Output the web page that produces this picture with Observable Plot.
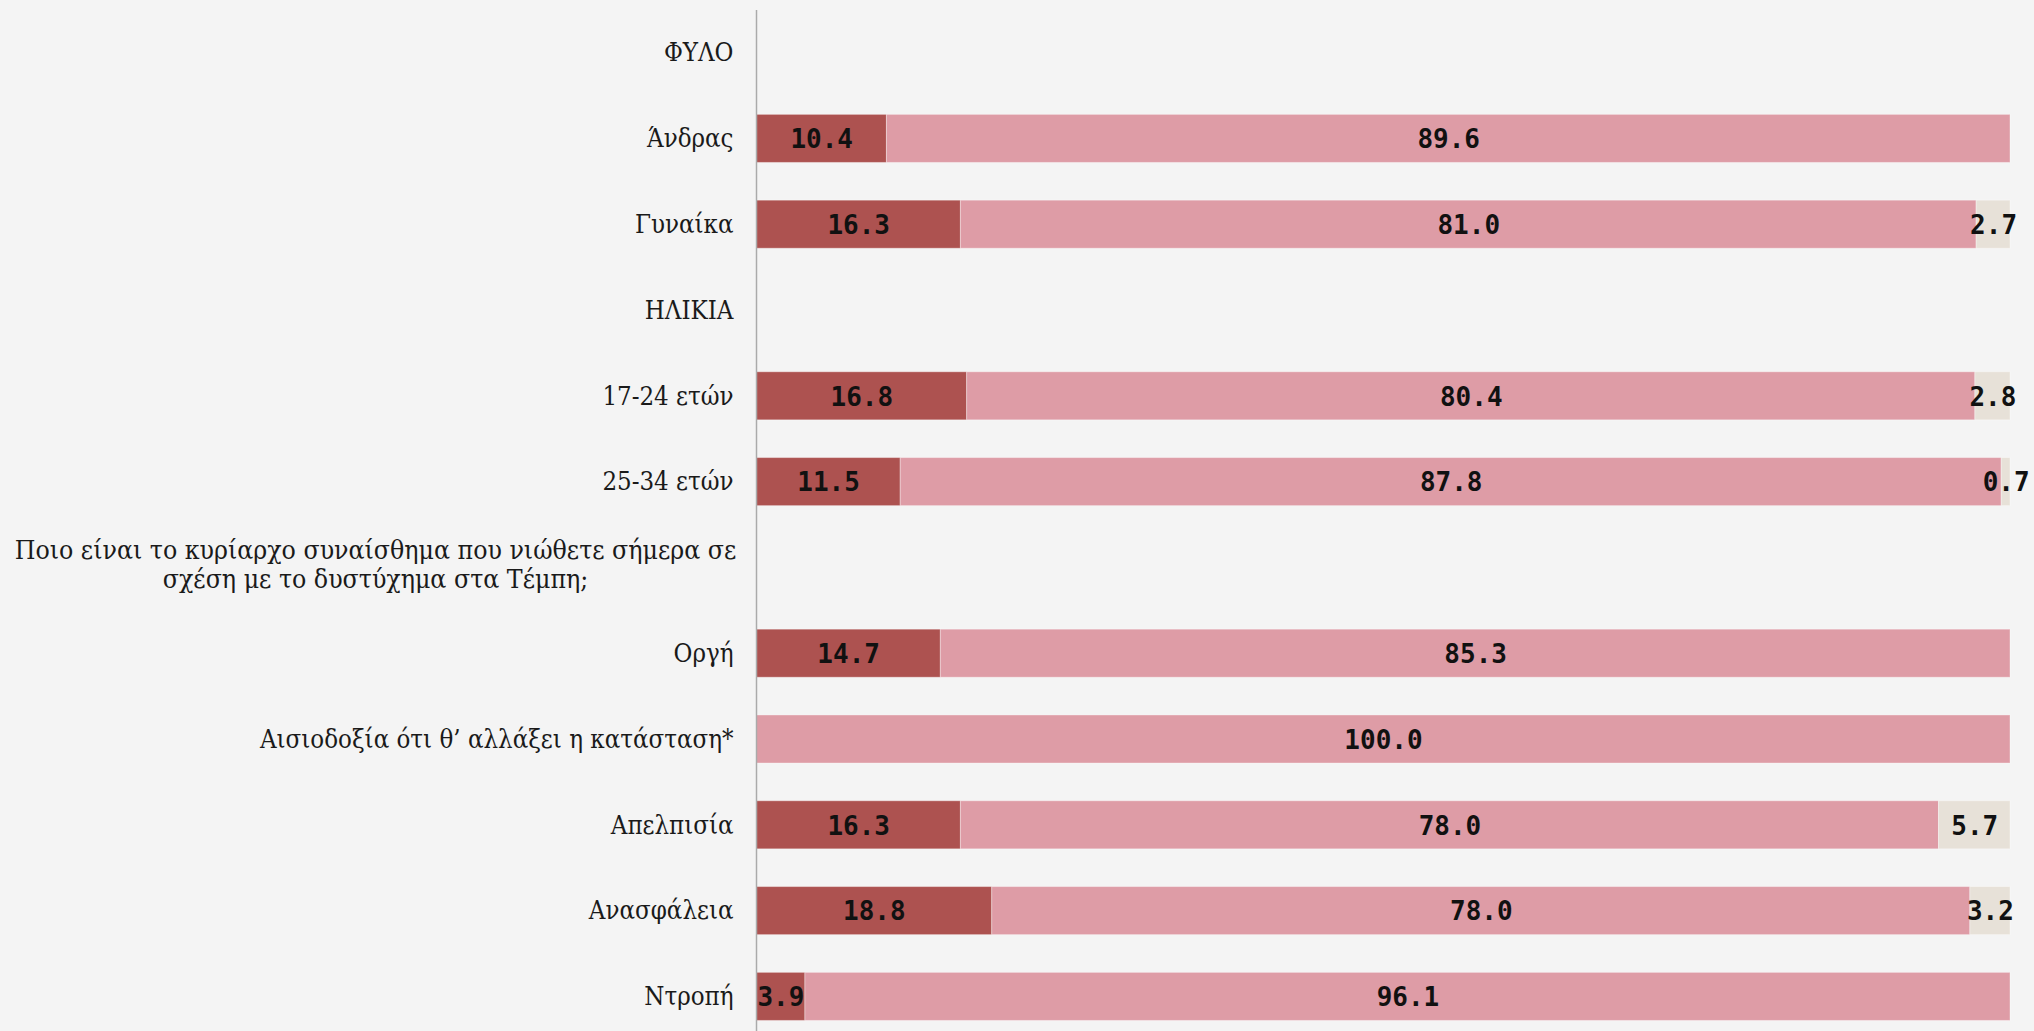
<!DOCTYPE html>
<html>
<head>
<meta charset="utf-8">
<script src="https://cdn.jsdelivr.net/npm/d3@7"></script>
<script src="https://cdn.jsdelivr.net/npm/@observablehq/plot@0.6"></script>
<style>
  html, body { margin: 0; padding: 0; background: #f4f4f4; overflow: hidden; }
  #chart svg { display: block; }
</style>
</head>
<body>
<div id="chart"></div>
<script>
const categories = [
  "ΦΥΛΟ",
  "Άνδρας",
  "Γυναίκα",
  "ΗΛΙΚΙΑ",
  "17-24 ετών",
  "25-34 ετών",
  "Ποιο είναι το κυρίαρχο συναίσθημα που νιώθετε σήμερα σε\nσχέση με το δυστύχημα στα Τέμπη;",
  "Οργή",
  "Αισιοδοξία ότι θ’ αλλάξει η κατάσταση*",
  "Απελπισία",
  "Ανασφάλεια",
  "Ντροπή"
];
const seriesNames = ["s1", "s2", "s3"];
const series1 = [null, 10.4, 16.3, null, 16.8, 11.5, null, 14.7, 0, 16.3, 18.8, 3.9];
const series2 = [null, 89.6, 81.0, null, 80.4, 87.8, null, 85.3, 100.0, 78.0, 78.0, 96.1];
const series3 = [null, 0, 2.7, null, 2.8, 0.7, null, 0, 0, 5.7, 3.2, 0];
const colors = ["#ad5250", "#de9ca6", "#e7e1d8"];

const allSeries = [series1, series2, series3];
const rows = [];
categories.forEach((c, i) => {
  allSeries.forEach((s, k) => {
    const v = s[i];
    if (v != null && v > 0) rows.push({cat: c, series: seriesNames[k], value: v});
  });
});
const questionCats = categories.filter(c => c.includes("\n"));

const labelFont = "'DejaVu Serif Condensed', 'DejaVu Serif', serif";

const chart = Plot.plot({
  width: 2034,
  height: 1031,
  marginLeft: 756,
  marginRight: 24,
  marginTop: 20,
  marginBottom: 2,
  style: {background: "#f4f4f4", overflow: "visible"},
  x: {domain: [0, 100], axis: null},
  y: {domain: categories, paddingInner: 0.44, paddingOuter: 0.1, round: false, label: null},
  color: {domain: seriesNames, range: colors},
  marks: [
    Plot.barX(rows, Plot.stackX({
      x: "value", y: "cat", fill: "series", z: "series", order: seriesNames,
      stroke: "#ffffff", strokeOpacity: 0.35, strokeWidth: 1
    })),
    Plot.text(rows, Plot.stackX({
      x: "value", y: "cat", z: "series", order: seriesNames,
      text: d => d.value.toFixed(1),
      fontFamily: "'DejaVu Sans Mono', monospace",
      fontWeight: "bold",
      fontSize: 26,
      fill: "#111",
      dy: 1
    })),
    Plot.axisY({
      tickSize: 0,
      tickPadding: 23,
      fontSize: 25.6,
      fontFamily: labelFont,
      fill: "#1a1a1a",
      tickFormat: d => d.includes("\n") ? "" : d
    }),
    Plot.text(questionCats, {
      y: d => d,
      text: d => d,
      frameAnchor: "left",
      textAnchor: "middle",
      dx: -381,
      dy: -4,
      lineHeight: 1.1,
      fontSize: 26.4,
      fontFamily: labelFont,
      fill: "#1a1a1a"
    }),
    Plot.ruleX([0], {stroke: "#aaaaaa", strokeWidth: 1.5, insetTop: -10, insetBottom: -2})
  ]
});
document.getElementById("chart").appendChild(chart);
</script>
</body>
</html>
